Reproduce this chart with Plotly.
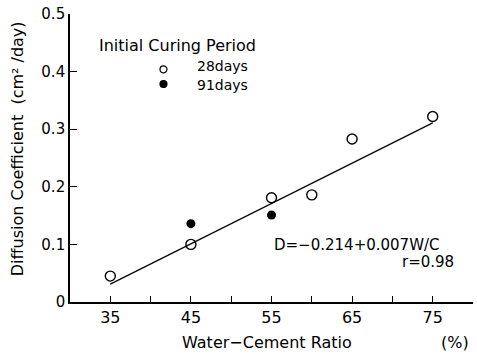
import plotly.graph_objects as go

wc_28 = [35, 45, 55, 60, 65, 75]
d_28 = [0.045, 0.10, 0.181, 0.186, 0.283, 0.322]
wc_91 = [45, 55]
d_91 = [0.136, 0.151]
fit_x = [35, 75]
intercept, slope = -0.214, 0.007
fit_y = [intercept + slope * x for x in fit_x]

x_ticks = [35, 40, 45, 50, 55, 60, 65, 70, 75, 80]
x_labels = ["35", "", "45", "", "55", "", "65", "", "75", ""]
y_ticks = [0, 0.1, 0.2, 0.3, 0.4, 0.5]
y_labels = ["0", "0.1", "0.2", "0.3", "0.4", "0.5"]

FONT = "DejaVu Sans"
fig = go.Figure()
fig.add_trace(go.Scatter(x=fit_x, y=fit_y, mode="lines", line=dict(color="black", width=1.2),
                         showlegend=False))
fig.add_trace(go.Scatter(x=wc_28, y=d_28, mode="markers", name="28days", showlegend=False,
                         marker=dict(symbol="circle-open", size=10, color="black", line=dict(width=1.4))))
fig.add_trace(go.Scatter(x=wc_91, y=d_91, mode="markers", name="91days", showlegend=False,
                         marker=dict(symbol="circle", size=9, color="black")))

fig.update_layout(
    width=477, height=358,
    margin=dict(l=70, r=4, t=14, b=56),
    paper_bgcolor="white", plot_bgcolor="white",
    font=dict(family=FONT, size=15, color="black"),
    xaxis=dict(range=[30, 80], tickvals=x_ticks, ticktext=x_labels, ticks="inside", ticklen=6,
               tickwidth=1.3, tickcolor="black", showline=True, linecolor="black", linewidth=1.6,
               showgrid=False, zeroline=False, tickfont=dict(size=16)),
    yaxis=dict(range=[0, 0.5], tickvals=y_ticks, ticktext=y_labels, ticks="inside", ticklen=7,
               tickwidth=1.3, tickcolor="black", showline=True, linecolor="black", linewidth=1.6,
               showgrid=False, zeroline=False, tickfont=dict(size=15)),
)

# axis titles
fig.add_annotation(text="Diffusion Coefficient  (cm² /day)", xref="paper", yref="paper",
                   x=-0.131, y=0.531, textangle=-90, xanchor="center", yanchor="middle",
                   showarrow=False, font=dict(size=16))
fig.add_annotation(text="Water−Cement Ratio", xref="paper", yref="paper", x=0.49, y=-0.142,
                   xanchor="center", yanchor="middle", showarrow=False, font=dict(size=16))
fig.add_annotation(text="(%)", xref="paper", yref="paper", x=0.995, y=-0.142,
                   xanchor="right", yanchor="middle", showarrow=False, font=dict(size=16))

# legend drawn by hand
fig.add_annotation(text="Initial Curing Period", xref="paper", yref="paper", x=0.066, y=0.889,
                   xanchor="left", yanchor="middle", showarrow=False, font=dict(size=16))
lx, r, ry = 0.232, 3.5 / 403, 3.5 / 288
for ty, my, filled, label in [(0.819, 0.808, False, "28days"), (0.753, 0.757, True, "91days")]:
    fig.add_shape(type="circle", xref="paper", yref="paper", x0=lx - r, x1=lx + r,
                  y0=my - ry, y1=my + ry, line=dict(color="black", width=1.2),
                  fillcolor="black" if filled else "white")
    fig.add_annotation(text=label, xref="paper", yref="paper", x=0.313, y=ty,
                       xanchor="left", yanchor="middle", showarrow=False, font=dict(size=14),
                       borderpad=0)

fig.add_annotation(text="D=−0.214+0.007W/C", xref="paper", yref="paper", x=0.5, y=0.198,
                   xanchor="left", yanchor="middle", showarrow=False, font=dict(size=15))
fig.add_annotation(text="r=0.98", xref="paper", yref="paper", x=0.958, y=0.139,
                   xanchor="right", yanchor="middle", showarrow=False, font=dict(size=15))
fig.write_html("out.html")
